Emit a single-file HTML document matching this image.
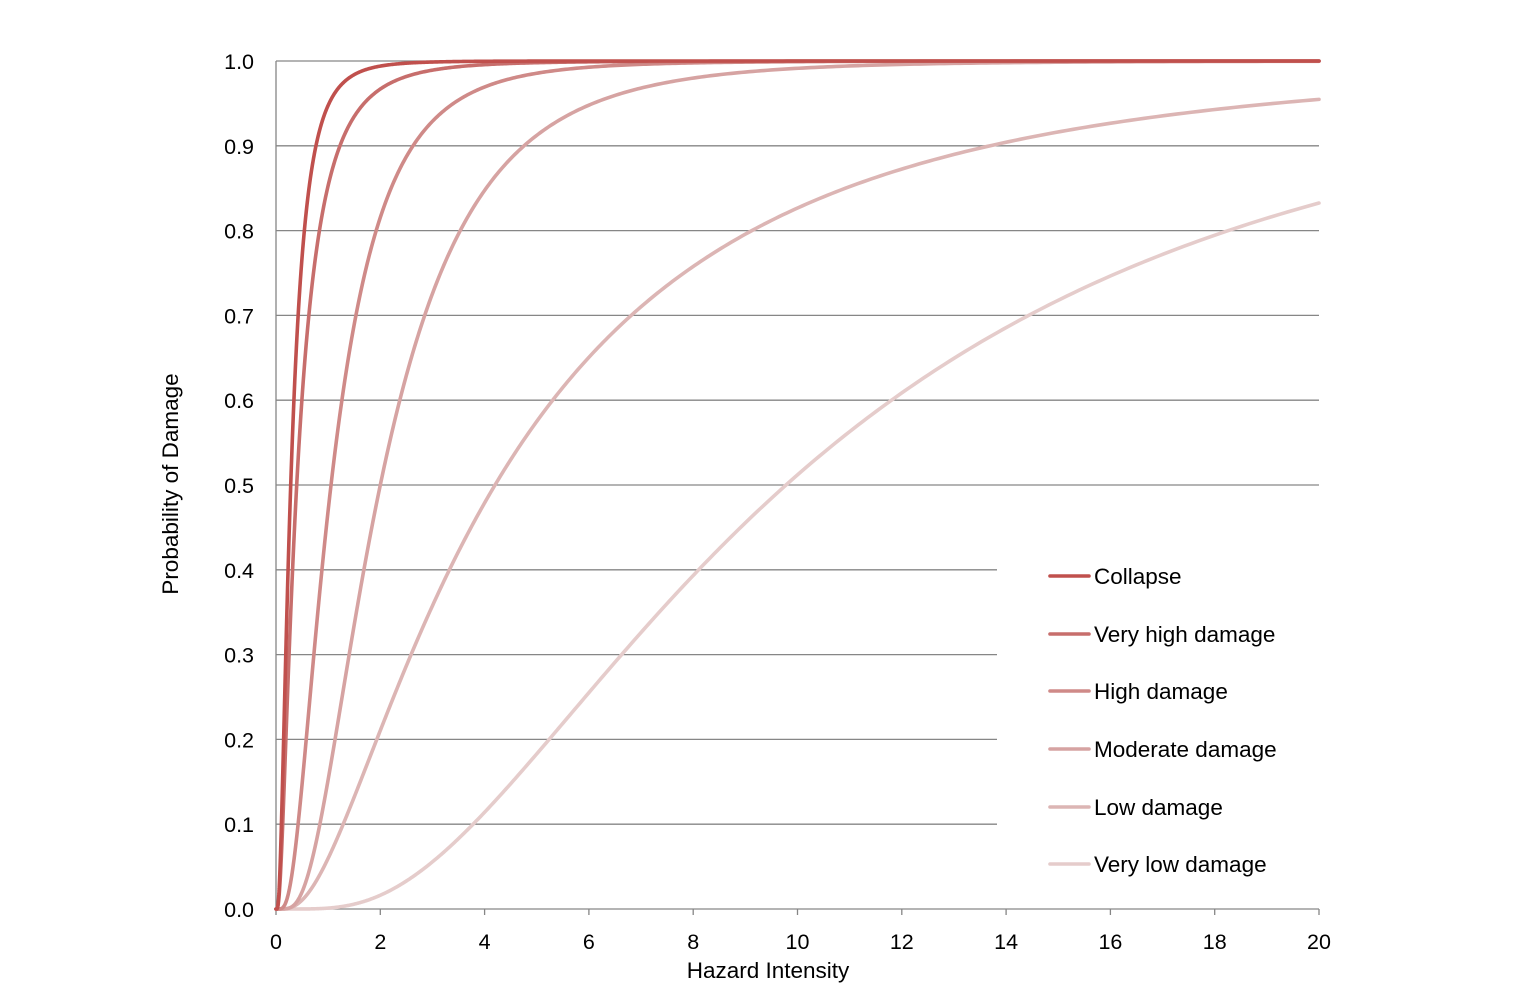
<!DOCTYPE html>
<html><head><meta charset="utf-8"><style>
html,body{margin:0;padding:0;background:#fff;}
svg text{font-family:"Liberation Sans",Arial,sans-serif;fill:#000;}
</style></head><body>
<svg id="s" width="1526" height="997" xmlns="http://www.w3.org/2000/svg">
<g stroke="#868686" stroke-width="1.3" fill="none">
<line x1="276" y1="61" x2="1319" y2="61"/>
<line x1="276" y1="145.8" x2="1319" y2="145.8"/>
<line x1="276" y1="230.6" x2="1319" y2="230.6"/>
<line x1="276" y1="315.4" x2="1319" y2="315.4"/>
<line x1="276" y1="400.2" x2="1319" y2="400.2"/>
<line x1="276" y1="485" x2="1319" y2="485"/>
<line x1="276" y1="569.8" x2="997" y2="569.8"/>
<line x1="276" y1="654.6" x2="997" y2="654.6"/>
<line x1="276" y1="739.4" x2="997" y2="739.4"/>
<line x1="276" y1="824.2" x2="997" y2="824.2"/>
<line x1="276" y1="909" x2="1319" y2="909"/>
<line x1="276" y1="61" x2="276" y2="915"/>
<line x1="380.3" y1="909" x2="380.3" y2="915"/>
<line x1="484.6" y1="909" x2="484.6" y2="915"/>
<line x1="588.9" y1="909" x2="588.9" y2="915"/>
<line x1="693.2" y1="909" x2="693.2" y2="915"/>
<line x1="797.5" y1="909" x2="797.5" y2="915"/>
<line x1="901.8" y1="909" x2="901.8" y2="915"/>
<line x1="1006.1" y1="909" x2="1006.1" y2="915"/>
<line x1="1110.4" y1="909" x2="1110.4" y2="915"/>
<line x1="1214.7" y1="909" x2="1214.7" y2="915"/>
<line x1="1319" y1="909" x2="1319" y2="915"/>
</g>
<g font-size="21.5" text-anchor="end">
<text x="254" y="69">1.0</text><text x="254" y="153.8">0.9</text><text x="254" y="238.6">0.8</text>
<text x="254" y="323.4">0.7</text><text x="254" y="408.2">0.6</text><text x="254" y="493">0.5</text>
<text x="254" y="577.8">0.4</text><text x="254" y="662.6">0.3</text><text x="254" y="747.4">0.2</text>
<text x="254" y="832.2">0.1</text><text x="254" y="917">0.0</text>
</g>
<g font-size="21.5" text-anchor="middle">
<text x="276" y="949">0</text><text x="380.3" y="949">2</text><text x="484.6" y="949">4</text>
<text x="588.9" y="949">6</text><text x="693.2" y="949">8</text><text x="797.5" y="949">10</text>
<text x="901.8" y="949">12</text><text x="1006.1" y="949">14</text><text x="1110.4" y="949">16</text>
<text x="1214.7" y="949">18</text><text x="1319" y="949">20</text>
</g>
<g font-size="22.5" text-anchor="middle">
<text x="768" y="978">Hazard Intensity</text>
<text x="0" y="0" transform="translate(178,484) rotate(-90)">Probability of Damage</text>
</g>
<g id="curves" fill="none" stroke-width="3.6" stroke-linejoin="round" stroke-linecap="round"></g>
<g stroke-width="3.6" stroke-linecap="round">
<line x1="1050" y1="576" x2="1089" y2="576" stroke="#C0504D"/>
<line x1="1050" y1="634" x2="1089" y2="634" stroke="#C76E6C"/>
<line x1="1050" y1="691" x2="1089" y2="691" stroke="#CF8A88"/>
<line x1="1050" y1="749" x2="1089" y2="749" stroke="#D6A3A2"/>
<line x1="1050" y1="807" x2="1089" y2="807" stroke="#DCB5B4"/>
<line x1="1050" y1="864" x2="1089" y2="864" stroke="#E5CCCB"/>
</g>
<g font-size="22.5">
<text x="1094" y="584">Collapse</text>
<text x="1094" y="642">Very high damage</text>
<text x="1094" y="699">High damage</text>
<text x="1094" y="757">Moderate damage</text>
<text x="1094" y="815">Low damage</text>
<text x="1094" y="872">Very low damage</text>
</g>
</svg>
<script>
function erf(x){var s=x<0?-1:1;x=Math.abs(x);var t=1/(1+0.3275911*x);
var y=1-(((((1.061405429*t-1.453152027)*t)+1.421413741)*t-0.284496736)*t+0.254829592)*t*Math.exp(-x*x);return s*y;}
function cdf(x,m,b){if(x<=0)return 0;return 0.5*(1+erf(Math.log(x/m)/(b*Math.SQRT2)));}
var S=[["#E5CCCB",9.78,0.742],["#DCB5B4",4.2,0.922],["#D6A3A2",2.0,0.676],["#CF8A88",1.055,0.712],["#C76E6C",0.397,0.88],["#C0504D",0.282,0.78]];
var g=document.getElementById("curves");
S.forEach(function(s){
 var d="M276,909";
 for(var i=0;i<=1200;i++){
  var x=0.002*Math.pow(10000,i/1200);
  if(x>20)x=20;
  var p=cdf(x,s[1],s[2]);
  d+=" L"+(276+x*52.15).toFixed(2)+","+(909-p*848).toFixed(2);
 }
 var e=document.createElementNS("http://www.w3.org/2000/svg","path");
 e.setAttribute("d",d);e.setAttribute("stroke",s[0]);g.appendChild(e);
});
</script>
</body></html>
